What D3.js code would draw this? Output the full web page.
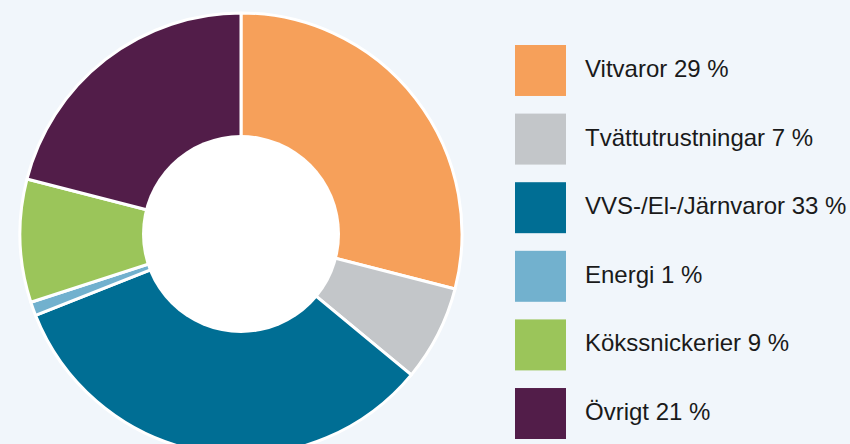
<!DOCTYPE html>
<html>
<head>
<meta charset="utf-8">
<script src="https://cdn.jsdelivr.net/npm/d3@7"></script>
<style>
  html, body { margin: 0; padding: 0; background: #f1f6fb; }
  svg { display: block; }
</style>
</head>
<body>
<svg id="chart" width="850" height="444"></svg>
<script>
// Chart data
const categories = ["Vitvaror", "Tvättutrustningar", "VVS-/El-/Järnvaror", "Energi", "Kökssnickerier", "Övrigt"];
const shares = [29, 7, 33, 1, 9, 21];
const colors = ["#f6a05a", "#c3c6c9", "#006e94", "#72b1ce", "#9bc55a", "#521d49"];

const data = categories.map((c, i) => ({ name: c, value: shares[i], color: colors[i] }));

const svg = d3.select("#chart");

// Donut
const cx = 241, cy = 234;
const outerR = 221, innerR = 99;

const pie = d3.pie()
    .value(d => d.value)
    .sort(null);

const arc = d3.arc()
    .innerRadius(0)
    .outerRadius(outerR);

const g = svg.append("g")
    .attr("transform", `translate(${cx},${cy})`);

g.selectAll("path")
    .data(pie(data))
    .enter().append("path")
    .attr("d", arc)
    .attr("fill", d => d.data.color)
    .attr("stroke", "#ffffff")
    .attr("stroke-width", 3)
    .attr("stroke-linejoin", "round");

// white hole in the middle
g.append("circle")
    .attr("r", innerR)
    .attr("fill", "#ffffff");

// Legend
const legendY = d3.scaleBand()
    .domain(categories)
    .range([45, 439])
    .paddingInner(0.257)
    .paddingOuter(0);

const legend = svg.append("g")
    .attr("transform", "translate(515,0)");

const rows = legend.selectAll(".legend-row")
    .data(data)
    .enter().append("g")
    .attr("class", "legend-row")
    .attr("transform", d => `translate(0,${legendY(d.name)})`);

rows.append("rect")
    .attr("width", 51)
    .attr("height", legendY.bandwidth())
    .attr("fill", d => d.color);

rows.append("text")
    .attr("x", 70)
    .attr("y", 32)
    .style("font-family", "'Liberation Sans', Arial, sans-serif")
    .style("font-size", "24px")
    .attr("fill", "#1a1a1a")
    .text(d => `${d.name} ${d.value} %`);
</script>
</body>
</html>
